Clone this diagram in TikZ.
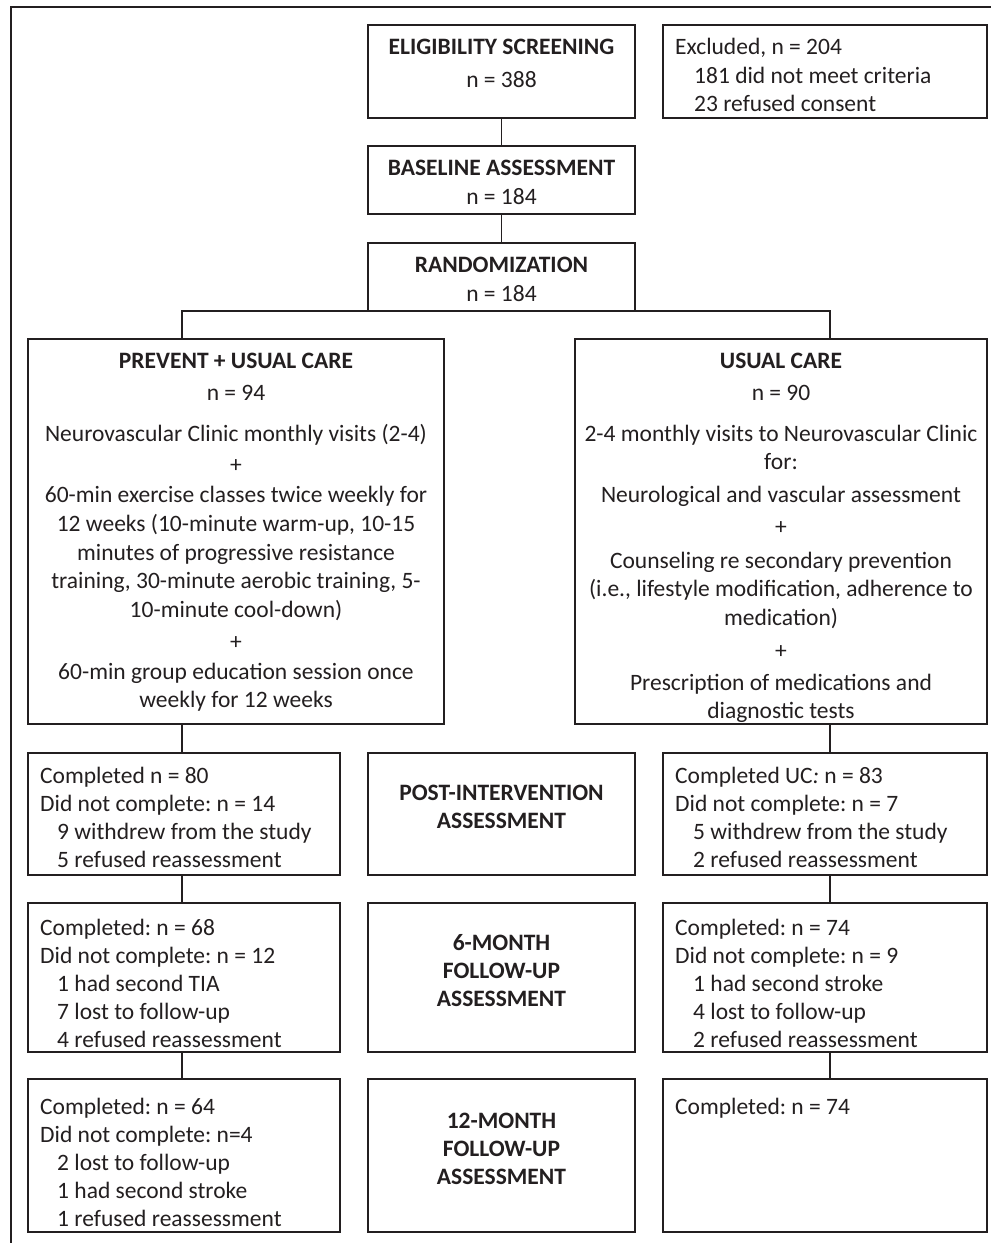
\documentclass[tikz,border=0pt]{standalone}
\usepackage{fontspec}
\setmainfont{Carlito}
\frenchspacing
\definecolor{ink}{RGB}{35,31,32}
\newcommand\mkbox[5]{\node[box, minimum width={(#4-#2)*1pt}, minimum height={(#5-#3)*1pt}] (#1) at ({(#2+#4)/2},{(#3+#5)/2}) {};}
\begin{document}
\begin{tikzpicture}[x=1pt,y=-1pt,
  box/.style={draw=ink, line width=1.2pt, rectangle, inner sep=0pt, outer sep=0pt},
  txt/.style={inner sep=0pt, text=ink, font=\fontsize{23.5}{28}\selectfont},
  hd/.style={inner sep=0pt, text=ink, font=\fontsize{23.5}{28}\selectfont\bfseries},
  conn/.style={draw=ink, line width=1.2pt}]
\useasboundingbox (0,0) rectangle (991,1243);
\fill[white] (0,0) rectangle (991,1243);
% outer frame (top and left visible)
\draw[ink, line width=1.8pt] (11,1260) -- (11,7) -- (1010,7);

% boxes
\mkbox{elig}{368}{25}{635}{118}
\mkbox{excl}{663}{25}{987}{118}
\mkbox{base}{368}{146}{635}{214}
\mkbox{rand}{368}{243}{635}{311}
\mkbox{arml}{28}{339}{444}{724}
\mkbox{armr}{575}{339}{987}{724}
\mkbox{l1}{28}{753}{340}{875}
\mkbox{m1}{368}{753}{635}{875}
\mkbox{r1}{663}{753}{987}{875}
\mkbox{l2}{28}{903}{340}{1052}
\mkbox{m2}{368}{903}{635}{1052}
\mkbox{r2}{663}{903}{987}{1052}
\mkbox{l3}{28}{1079}{340}{1232}
\mkbox{m3}{368}{1079}{635}{1232}
\mkbox{r3}{663}{1079}{987}{1232}

\coordinate (cl) at (182,0);
\coordinate (cr) at (830,0);

% connectors
\draw[conn] (elig.south) -- (base.north);
\draw[conn] (base.south) -- (rand.north);
\draw[conn] (arml.north -| cl) |- (rand.south) -| (armr.north -| cr);
\draw[conn] (arml.south -| cl) -- (l1.north -| cl);
\draw[conn] (l1.south -| cl) -- (l2.north -| cl);
\draw[conn] (l2.south -| cl) -- (l3.north -| cl);
\draw[conn] (armr.south -| cr) -- (r1.north -| cr);
\draw[conn] (r1.south -| cr) -- (r2.north -| cr);
\draw[conn] (r2.south -| cr) -- (r3.north -| cr);

% top texts
\node[hd, anchor=mid] (eligt) at (501.5,52) {ELIGIBILITY SCREENING};
\node[txt, anchor=mid] (elign) at (501.5,85) {n = 388};
\node[txt, anchor=mid west] (ex1) at (675,52) {Excluded, n = 204};
\node[txt, anchor=mid west] (ex2) at (694,81) {181 did not meet criteria};
\node[txt, anchor=mid west] (ex3) at (694,109) {23 refused consent};
\node[hd, anchor=mid] (baset) at (501.5,173) {BASELINE ASSESSMENT};
\node[txt, anchor=mid] (basen) at (501.5,202) {n = 184};
\node[hd, anchor=mid] (randt) at (501.5,270) {RANDOMIZATION};
\node[txt, anchor=mid] (randn) at (501.5,299) {n = 184};

% left arm
\node[hd, anchor=mid] (alt) at (236,366) {PREVENT + USUAL CARE};
\foreach \y/\t [count=\i] in {398/{n = 94},
  439/{Neurovascular Clinic monthly visits (2-4)},
  470/{+},
  500/{60-min exercise classes twice weekly for},
  529/{12 weeks (10-minute warm-up, 10-15},
  558/{minutes of progressive resistance},
  586/{training, 30-minute aerobic training, 5-},
  615/{10-minute cool-down)},
  647/{+},
  677/{60-min group education session once},
  705/{weekly for 12 weeks}}
  \node[txt, anchor=mid] (al\i) at (236,\y) {\t};

% right arm
\node[hd, anchor=mid] (art) at (781,366) {USUAL CARE};
\foreach \y/\t [count=\i] in {398/{n = 90},
  439/{2-4 monthly visits to Neurovascular Clinic},
  467/{for:},
  500/{Neurological and vascular assessment},
  532/{+},
  566/{Counseling re secondary prevention},
  594/{(i.e., lifestyle modification, adherence to},
  623/{medication)},
  656/{+},
  688/{Prescription of medications and},
  716/{diagnostic tests}}
  \node[txt, anchor=mid] (ar\i) at (781,\y) {\t};

% row 1
\foreach \x/\y/\t [count=\i] in {40/781/{Completed n = 80},
  40/809/{Did not complete: n = 14},
  57/837/{9 withdrew from the study},
  57/865/{5 refused reassessment}}
  \node[txt, anchor=mid west] (l1t\i) at (\x,\y) {\t};
\node[hd, anchor=mid] (m1a) at (501.5,798) {POST-INTERVENTION};
\node[hd, anchor=mid] (m1b) at (501.5,826) {ASSESSMENT};
\foreach \x/\y/\t [count=\i] in {675/781/{Completed UC\textit{:} n = 83},
  675/809/{Did not complete: n = 7},
  693/837/{5 withdrew from the study},
  693/865/{2 refused reassessment}}
  \node[txt, anchor=mid west] (r1t\i) at (\x,\y) {\t};

% row 2
\foreach \x/\y/\t [count=\i] in {40/933/{Completed: n = 68},
  40/961/{Did not complete: n = 12},
  57/989/{1 had second TIA},
  57/1017/{7 lost to follow-up},
  57/1045/{4 refused reassessment}}
  \node[txt, anchor=mid west] (l2t\i) at (\x,\y) {\t};
\node[hd, anchor=mid] (m2a) at (501.5,948) {6-MONTH};
\node[hd, anchor=mid] (m2b) at (501.5,976) {FOLLOW-UP};
\node[hd, anchor=mid] (m2c) at (501.5,1004) {ASSESSMENT};
\foreach \x/\y/\t [count=\i] in {675/933/{Completed: n = 74},
  675/961/{Did not complete: n = 9},
  693/989/{1 had second stroke},
  693/1017/{4 lost to follow-up},
  693/1045/{2 refused reassessment}}
  \node[txt, anchor=mid west] (r2t\i) at (\x,\y) {\t};

% row 3
\foreach \x/\y/\t [count=\i] in {40/1112/{Completed: n = 64},
  40/1140/{Did not complete: n=4},
  57/1168/{2 lost to follow-up},
  57/1196/{1 had second stroke},
  57/1224/{1 refused reassessment}}
  \node[txt, anchor=mid west] (l3t\i) at (\x,\y) {\t};
\node[hd, anchor=mid] (m3a) at (501.5,1126) {12-MONTH};
\node[hd, anchor=mid] (m3b) at (501.5,1154) {FOLLOW-UP};
\node[hd, anchor=mid] (m3c) at (501.5,1182) {ASSESSMENT};
\node[txt, anchor=mid west] (r3t1) at (675,1112) {Completed: n = 74};
\end{tikzpicture}
\end{document}
